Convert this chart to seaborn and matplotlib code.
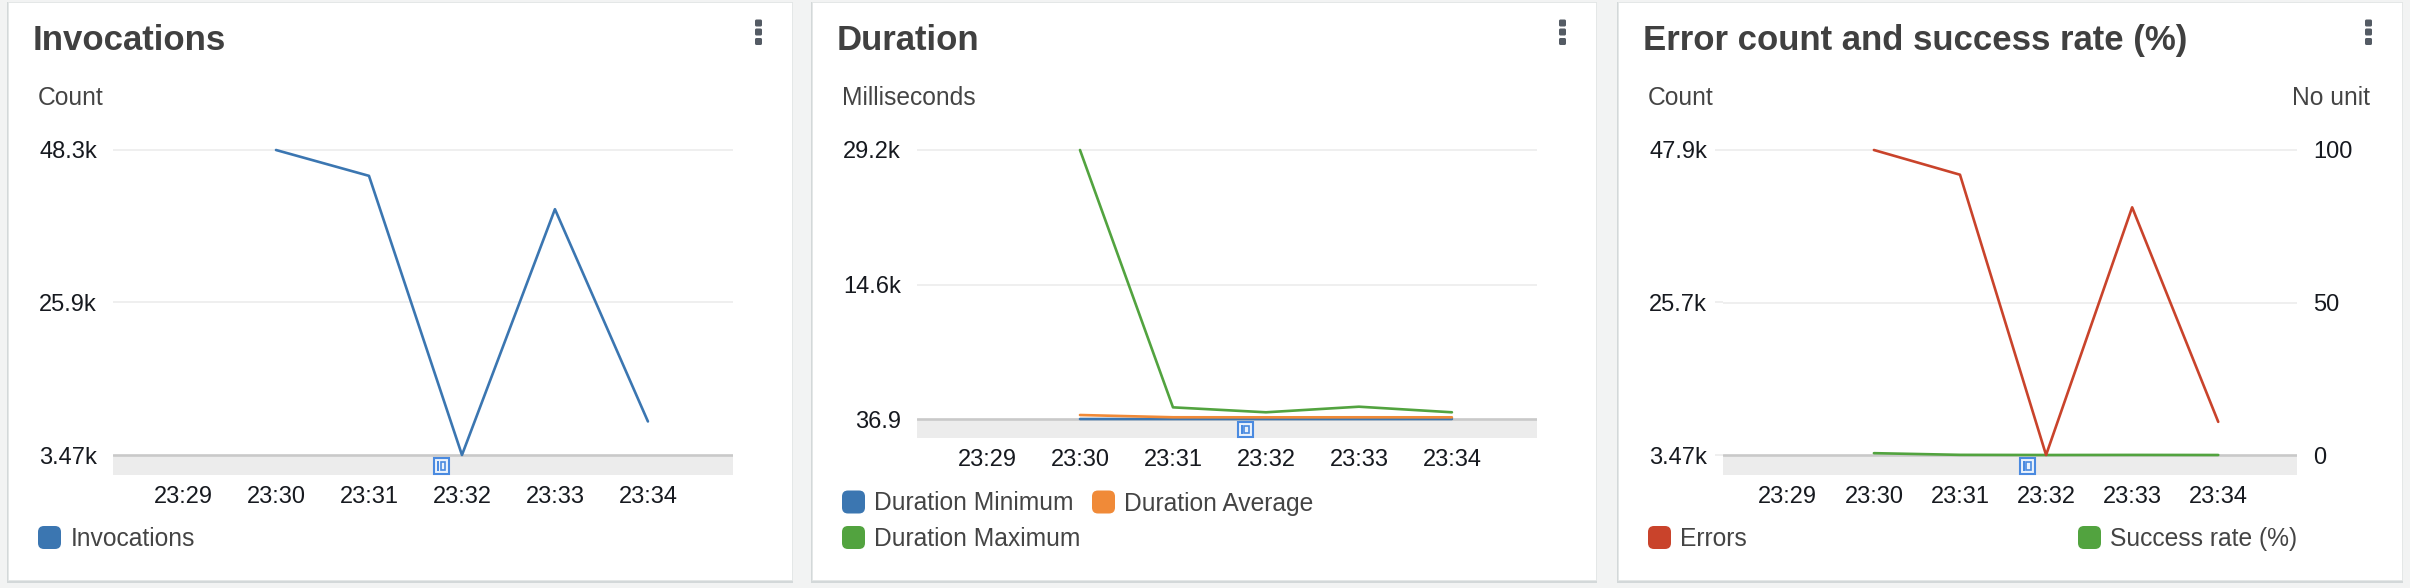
import matplotlib
matplotlib.use("Agg")
import matplotlib.pyplot as plt
import seaborn as sns
import pandas as pd
from matplotlib.patches import FancyBboxPatch, Rectangle
from matplotlib.transforms import Affine2D

# ---------------- data ----------------
time_labels = ["23:29", "23:30", "23:31", "23:32", "23:33", "23:34"]
series_times = ["23:30", "23:31", "23:32", "23:33", "23:34"]

invocations = [48300, 44500, 3470, 39600, 8400]

duration_min = [36.9, 38.5, 37.6, 38.1, 39.0]
duration_avg = [470, 225, 218, 222, 219]
duration_max = [29200, 1300, 765, 1370, 765]

errors = [47900, 44300, 3470, 39550, 8300]
success_rate = [0.6, 0.05, 0.0, 0.03, 0.0]

inv_ticks = [3470, 25900, 48300]
inv_tick_labels = ["3.47k", "25.9k", "48.3k"]
dur_ticks = [36.9, 14600, 29200]
dur_tick_labels = ["36.9", "14.6k", "29.2k"]
err_ticks = [3470, 25700, 47900]
err_tick_labels = ["3.47k", "25.7k", "47.9k"]
rate_ticks = [0, 50, 100]
rate_tick_labels = ["0", "50", "100"]

titles = ["Invocations", "Duration", "Error count and success rate (%)"]

BLUE = "#3b76b1"
ORANGE = "#f08a38"
GREEN = "#52a33f"
RED = "#c9432b"

# ---------------- style ----------------
sns.set_style("white")
plt.rcParams["font.family"] = ["Liberation Sans", "DejaVu Sans"]

W, H = 2410, 588
fig = plt.figure(figsize=(W / 100, H / 100), dpi=100, facecolor="#f2f3f3")
px = Affine2D().scale(1 / W, -1 / H).translate(0, 1) + fig.transFigure

TXT = "#16191f"
LBL = "#444444"
GRID = "#ebebeb"
BAND = "#ececec"
BANDLINE = "#c9c9c9"
P2PT = 0.72  # px -> pt at 100 dpi

XL0, XL1 = -0.753, 5.915

df = pd.DataFrame({
    "t": [time_labels.index(t) for t in series_times],
    "Invocations": invocations,
    "Duration Minimum": duration_min,
    "Duration Average": duration_avg,
    "Duration Maximum": duration_max,
    "Errors": errors,
    "Success rate (%)": success_rate,
})

# ---------------- cards ----------------
cards = [(8, 792), (812, 1596), (1618, 2402)]
CT, CB = 2, 580
for i, (x0, x1) in enumerate(cards):
    fig.add_artist(Rectangle((x0 - 1, CT), x1 - x0 + 2, CB - CT + 3, fc="#d3d8d9",
                             ec="none", transform=px, zorder=-3))
    fig.add_artist(Rectangle((x0, CT), x1 - x0, CB - CT, fc="white", ec="#e4e7e7",
                             lw=0.6, transform=px, zorder=-2))
    # kebab menu
    kx = x1 - 33.5
    for ky in (23, 32, 41.5):
        fig.add_artist(FancyBboxPatch((kx - 3.5, ky - 3.5), 7, 7,
                                      boxstyle="round,pad=0,rounding_size=1.5",
                                      fc="#545b64", ec="none", transform=px))
    fig.text(x0 + 25, 50, titles[i], transform=px, fontsize=25,
             fontweight="bold", color="#404040", va="baseline", ha="left")


def make_axes(L, R, T, B):
    return fig.add_axes([L / W, 1 - B / H, (R - L) / W, (B - T) / H])


def set_ylim(ax, v_lo, v_hi, p_lo, p_hi, T, B):
    s = (p_lo - p_hi) / (v_hi - v_lo)
    lo = v_lo - (B - p_lo) / s
    ax.set_ylim(lo, v_hi + (p_hi - T) / s)
    return lo


def style_axes(ax, ticks, labels, draw_band=True, lo=None):
    for sp in ax.spines.values():
        sp.set_visible(False)
    ax.set_facecolor("none")
    ax.grid(False)
    ax.set_xlim(XL0, XL1)
    ax.set_xticks(range(len(time_labels)), time_labels)
    ax.tick_params(axis="x", length=0, pad=8.2, labelsize=17, labelcolor=TXT)
    ax.set_yticks(ticks, labels)
    ax.tick_params(axis="y", length=8 * P2PT, width=1.1, color=GRID, pad=8 * P2PT,
                   labelsize=17, labelcolor=TXT)
    ax.set_xlabel("")
    ax.set_ylabel("")
    if draw_band:
        for v in ticks[1:]:
            ax.axhline(v, color=GRID, lw=1.1, zorder=1)
        ax.axhspan(lo, ticks[0], color=BAND, lw=0, zorder=0)
        ax.axhline(ticks[0], color=BANDLINE, lw=1.9, zorder=2)


def handle(ax_box, xc_data):
    L, R, T, B, p_lo = ax_box
    xc = L + (xc_data - XL0) / (XL1 - XL0) * (R - L)
    y0, y1 = p_lo + 2.5, B - 1
    fig.add_artist(Rectangle((xc - 7.5, y0), 15, y1 - y0, fc="#eaf2fc", ec="#4a8ae0",
                             lw=1.5, transform=px, zorder=10))
    fig.add_artist(Rectangle((xc - 5, y0 + 3), 2.2, y1 - y0 - 6, fc="#4a8ae0", ec="none",
                             transform=px, zorder=11))
    fig.add_artist(Rectangle((xc - 1.3, y0 + 4), 4.5, y1 - y0 - 8, fc="none", ec="#4a8ae0",
                             lw=1.2, transform=px, zorder=11))


def legend_entry(x, baseline, color, label):
    fig.add_artist(FancyBboxPatch((x, baseline - 20), 23, 23,
                                  boxstyle="round,pad=0,rounding_size=6",
                                  fc=color, ec="none", transform=px))
    fig.text(x + 32.5, baseline, label, transform=px, fontsize=17.7, color=LBL,
             va="baseline", ha="left")


LW = 1.9

# ---------------- panel 1: Invocations ----------------
box1 = (113, 733, 140, 475, 455)
ax1 = make_axes(*box1[:4])
lo1 = set_ylim(ax1, inv_ticks[0], inv_ticks[-1], 455, 150, 140, 475)
sns.lineplot(data=df, x="t", y="Invocations", ax=ax1, color=BLUE, linewidth=LW,
             errorbar=None, legend=False, zorder=5)
style_axes(ax1, inv_ticks, inv_tick_labels, lo=lo1)
fig.text(38, 105, "Count", transform=px, fontsize=17.7, color=LBL, va="baseline")
handle(box1, 2.785)
legend_entry(38, 546, BLUE, "Invocations")

# ---------------- panel 2: Duration ----------------
box2 = (917, 1537, 140, 438, 419)
ax2 = make_axes(*box2[:4])
lo2 = set_ylim(ax2, dur_ticks[0], dur_ticks[-1], 419, 150, 140, 438)
for col, c in [("Duration Minimum", BLUE), ("Duration Average", ORANGE),
               ("Duration Maximum", GREEN)]:
    sns.lineplot(data=df, x="t", y=col, ax=ax2, color=c, linewidth=LW,
                 errorbar=None, legend=False, zorder=5)
style_axes(ax2, dur_ticks, dur_tick_labels, lo=lo2)
fig.text(842, 105, "Milliseconds", transform=px, fontsize=17.7, color=LBL, va="baseline")
handle(box2, 2.78)
legend_entry(842, 510.5, BLUE, "Duration Minimum")
legend_entry(1092, 510.5, ORANGE, "Duration Average")
legend_entry(842, 546, GREEN, "Duration Maximum")

# ---------------- panel 3: Errors / success rate ----------------
box3 = (1723, 2297, 140, 475, 455)
ax3 = make_axes(*box3[:4])
lo3 = set_ylim(ax3, err_ticks[0], err_ticks[-1], 455, 150, 140, 475)
ax3r = ax3.twinx()
lo3r = set_ylim(ax3r, rate_ticks[0], rate_ticks[-1], 455, 150, 140, 475)
ax3.set_zorder(2)
ax3r.set_zorder(1)
sns.lineplot(data=df, x="t", y="Success rate (%)", ax=ax3r, color=GREEN, linewidth=LW,
             errorbar=None, legend=False, zorder=5)
sns.lineplot(data=df, x="t", y="Errors", ax=ax3, color=RED, linewidth=LW,
             errorbar=None, legend=False, zorder=5)
style_axes(ax3, err_ticks, err_tick_labels, draw_band=False)
for sp in ax3r.spines.values():
    sp.set_visible(False)
ax3r.set_xlim(XL0, XL1)
ax3r.set_ylabel("")
ax3r.grid(False)
ax3r.set_yticks(rate_ticks, rate_tick_labels)
ax3r.tick_params(axis="y", length=0, pad=16 * P2PT, labelsize=17, labelcolor=TXT)
for v in rate_ticks[1:]:
    ax3r.axhline(v, color=GRID, lw=1.1, zorder=1)
ax3r.axhspan(lo3r, rate_ticks[0], color=BAND, lw=0, zorder=0)
ax3r.axhline(rate_ticks[0], color=BANDLINE, lw=1.9, zorder=2)
ax3.set_xlim(XL0, XL1)
fig.text(1648, 105, "Count", transform=px, fontsize=17.7, color=LBL, va="baseline")
fig.text(2370, 105, "No unit", transform=px, fontsize=17.7, color=LBL, va="baseline",
         ha="right")
handle(box3, 2.785)
legend_entry(1648, 546, RED, "Errors")
legend_entry(2078, 546, GREEN, "Success rate (%)")

fig.savefig("out.png", dpi=100, facecolor=fig.get_facecolor())
